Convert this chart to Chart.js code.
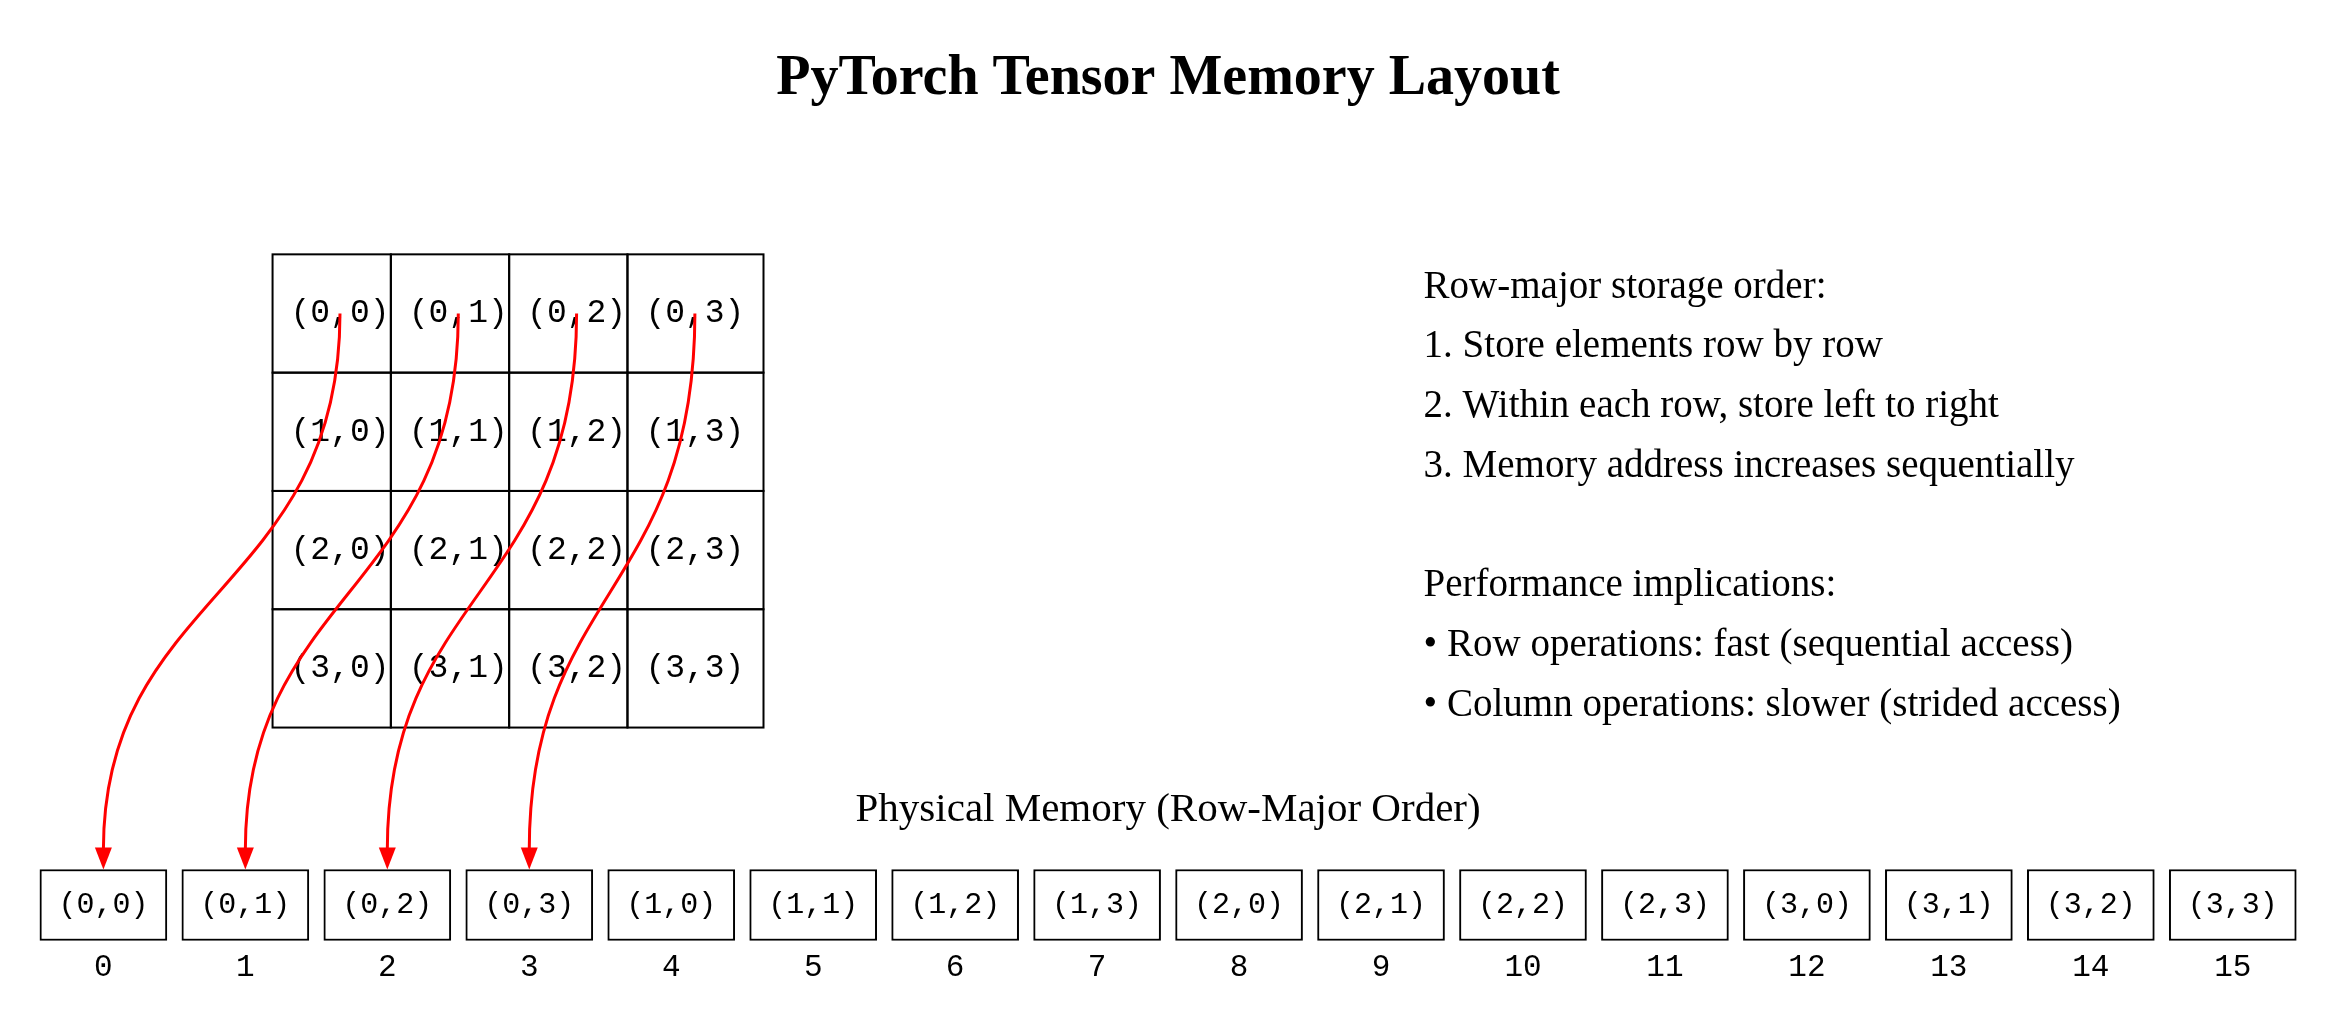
<!DOCTYPE html>
<html>
<head>
<meta charset="utf-8">
<title>PyTorch Tensor Memory Layout</title>
<script src="https://cdn.jsdelivr.net/npm/chart.js@4.4.1/dist/chart.umd.min.js"></script>
<style>
  html, body { margin: 0; padding: 0; background: #fff; overflow: hidden; }
  #wrap { width: 2337px; height: 1033px; }
</style>
</head>
<body>
<div id="wrap"><canvas id="layout" width="2337" height="1033"></canvas></div>
<script>
const chartTitle = 'PyTorch Tensor Memory Layout';
const memoryTitle = 'Physical Memory (Row-Major Order)';

const matrixRows = [0, 1, 2, 3];
const matrixCols = [0, 1, 2, 3];
const memoryAddresses = [0, 1, 2, 3, 4, 5, 6, 7, 8, 9, 10, 11, 12, 13, 14, 15];
const memoryLabels = ['(0,0)', '(0,1)', '(0,2)', '(0,3)', '(1,0)', '(1,1)', '(1,2)', '(1,3)',
                      '(2,0)', '(2,1)', '(2,2)', '(2,3)', '(3,0)', '(3,1)', '(3,2)', '(3,3)'];
// first row of the matrix is linked to its memory slots
const linkedAddresses = [0, 1, 2, 3];

const storageNotes = [
  'Row-major storage order:',
  '1. Store elements row by row',
  '2. Within each row, store left to right',
  '3. Memory address increases sequentially'
];
const perfNotes = [
  'Performance implications:',
  '\u2022 Row operations: fast (sequential access)',
  '\u2022 Column operations: slower (strided access)'
];

// drawing frame: one unit = one matrix cell
const W = 2337, H = 1033;
const X_MIN = -2.374, X_MAX = 17.381;
const Y_MIN = -2.582, Y_MAX = 6.15;
const unitPx = W / (X_MAX - X_MIN);

const memX = addr => -1.5 + 1.2 * addr;
const MEM_TOP = -1.2, MEM_BOTTOM = -1.8;

const SERIF = '"Liberation Serif", "Times New Roman", serif';
const MONO = '"Liberation Mono", "DejaVu Sans Mono", monospace';

const diagramPlugin = {
  id: 'tensorDiagram',
  afterDatasetsDraw(chart) {
    const { ctx } = chart;
    const xs = chart.scales.x, ys = chart.scales.y;
    const px = v => xs.getPixelForValue(v);
    const py = v => ys.getPixelForValue(v);
    const lastCol = matrixCols[matrixCols.length - 1];

    ctx.save();

    // title
    ctx.fillStyle = '#000';
    ctx.textAlign = 'center';
    ctx.textBaseline = 'middle';
    ctx.font = 'bold 56px ' + SERIF;
    ctx.fillText(chartTitle, px(7.5), py(5.48));

    // matrix cells
    ctx.strokeStyle = '#000';
    ctx.lineWidth = 2;
    matrixRows.forEach(i => {
      matrixCols.forEach(j => {
        const left = px(j - 0.07);
        const right = px(j === lastCol ? j + 1.08 : j + 0.93);
        const top = py(4 - i), bottom = py(3 - i);
        ctx.strokeRect(left, top, right - left, bottom - top);
      });
    });
    ctx.font = '33px ' + MONO;
    matrixRows.forEach(i => {
      matrixCols.forEach(j => {
        ctx.fillText(memoryLabels[i * matrixCols.length + j], px(j + 0.5), py(3.5 - i));
      });
    });

    // memory cell labels and addresses
    ctx.font = '30px ' + MONO;
    memoryAddresses.forEach((addr, k) => {
      ctx.fillText(memoryLabels[k], px(memX(addr)), py((MEM_TOP + MEM_BOTTOM) / 2));
    });
    ctx.font = '31px ' + MONO;
    memoryAddresses.forEach(addr => {
      ctx.fillText(String(addr), px(memX(addr)), py(-2.03));
    });

    ctx.font = '41px ' + SERIF;
    ctx.fillText(memoryTitle, px(memX(7.5)), py(-0.7));

    // arrows from matrix row 0 down to memory
    const headLen = 22, headHalf = 8.5;
    ctx.strokeStyle = '#ff0000';
    ctx.fillStyle = '#ff0000';
    ctx.lineWidth = 3;
    linkedAddresses.forEach(addr => {
      const row = Math.floor(addr / matrixCols.length);
      const col = addr % matrixCols.length;
      const sx = px(col + 0.5), sy = py(3.5 - row);
      const ex = px(memX(addr)), ey = py(MEM_TOP);
      const midY = (sy + ey) / 2;
      ctx.beginPath();
      ctx.moveTo(sx, sy);
      ctx.bezierCurveTo(sx, midY, ex, midY, ex, ey - headLen + 2);
      ctx.stroke();
      ctx.beginPath();
      ctx.moveTo(ex, ey);
      ctx.lineTo(ex - headHalf, ey - headLen);
      ctx.lineTo(ex + headHalf, ey - headLen);
      ctx.closePath();
      ctx.fill();
    });

    // notes on the right
    ctx.fillStyle = '#000';
    ctx.textAlign = 'left';
    ctx.font = '39px ' + SERIF;
    const lineStep = 0.505;
    storageNotes.forEach((t, i) => ctx.fillText(t, px(9.66), py(3.72 - lineStep * i)));
    perfNotes.forEach((t, i) => ctx.fillText(t, px(9.66), py(3.72 - lineStep * (i + storageNotes.length + 1))));

    ctx.restore();
  }
};

new Chart(document.getElementById('layout'), {
  type: 'bar',
  data: {
    datasets: [{
      label: 'Physical memory',
      data: memoryAddresses.map(addr => ({ x: memX(addr), y: [MEM_BOTTOM, MEM_TOP] })),
      backgroundColor: '#ffffff',
      borderColor: '#000000',
      borderWidth: 2,
      borderSkipped: false,
      barThickness: Math.round(1.07 * unitPx)
    }]
  },
  options: {
    responsive: false,
    animation: false,
    events: [],
    layout: { padding: 0 },
    scales: {
      x: { type: 'linear', min: X_MIN, max: X_MAX, offset: false, display: false },
      y: { type: 'linear', min: Y_MIN, max: Y_MAX, display: false }
    },
    plugins: {
      legend: { display: false },
      title: { display: false },
      tooltip: { enabled: false }
    }
  },
  plugins: [diagramPlugin]
});
</script>
</body>
</html>
